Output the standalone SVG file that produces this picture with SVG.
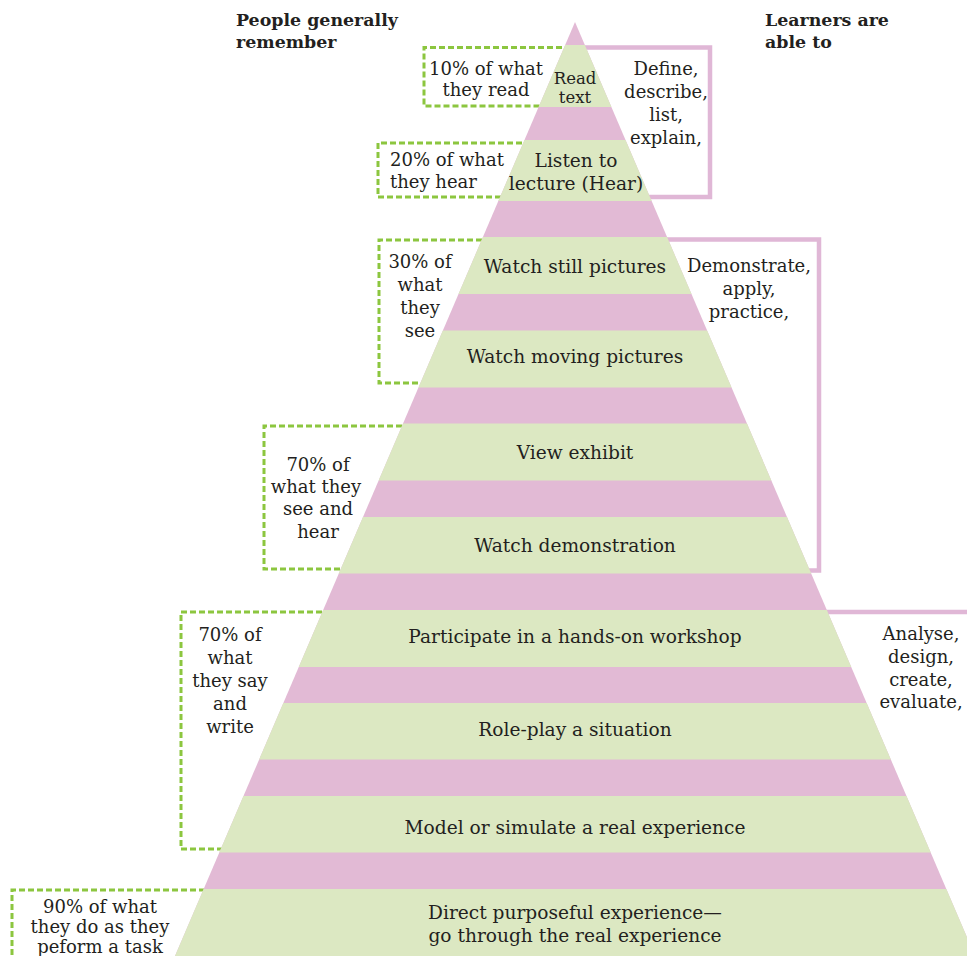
<svg xmlns="http://www.w3.org/2000/svg" width="967" height="956" viewBox="0 0 967 956">
  <style>
    .band-g { fill: #dce8c2; }
    .band-p { fill: #e2bad5; }
    .lbl { font-family: "DejaVu Serif", "Liberation Serif", serif; font-size: 18.6px; fill: #231f20; text-anchor: middle; }
    .sm { font-size: 16.5px; }
    .hdr { font-family: "DejaVu Serif", "Liberation Serif", serif; font-size: 17.4px; font-weight: bold; fill: #231f20; }
    .note { font-family: "DejaVu Serif", "Liberation Serif", serif; font-size: 18px; fill: #231f20; text-anchor: middle; }
    .start { text-anchor: start; }
    .brk { fill: none; stroke: #e0b7d6; stroke-width: 4.5; }
    .dash { fill: none; stroke: #8cc63f; stroke-width: 3; stroke-dasharray: 6 3; }
  </style>
  <defs>
    <clipPath id="tri">
      <polygon points="575,22 175,956 975,956"/>
    </clipPath>
  </defs>
  <rect width="967" height="956" fill="#ffffff"/>

  <!-- headers -->
  <g id="hdr-left">
    <text class="hdr" x="236" y="26">People generally</text>
    <text class="hdr" x="236" y="48">remember</text>
  </g>
  <g id="hdr-right">
    <text class="hdr" x="765" y="26">Learners are</text>
    <text class="hdr" x="765" y="48">able to</text>
  </g>

  <!-- connectors: outcome brackets (right) and recall boxes (left) -->
  <g id="connectors">
    <path class="brk" d="M 584 47.5 H 710 V 197 H 640"/>
    <path class="brk" d="M 660 239.5 H 819 V 570.5 H 800"/>
    <path class="brk" d="M 820 612 H 967"/>
    <path class="dash" d="M 562 47.5 H 424 V 106 H 545"/>
    <path class="dash" d="M 522 143 H 378 V 197 H 505"/>
    <path class="dash" d="M 482 240 H 379 V 383 H 425"/>
    <path class="dash" d="M 402 426 H 264 V 569 H 345"/>
    <path class="dash" d="M 322 612 H 181 V 849 H 225"/>
    <path class="dash" d="M 205 890 H 12 V 956"/>
  </g>

  <!-- pyramid -->
  <g id="pyramid" clip-path="url(#tri)">
    <rect class="band-p" x="150" y="0" width="850" height="956"/>
    <g id="read-text">
      <rect class="band-g" x="150" y="45" width="850" height="62"/>
      <text class="lbl sm" x="575" y="84">Read</text>
      <text class="lbl sm" x="575" y="103">text</text>
    </g>
    <g id="listen">
      <rect class="band-g" x="150" y="140" width="850" height="61"/>
      <text class="lbl" x="576" y="167">Listen to</text>
      <text class="lbl" x="576" y="190">lecture (Hear)</text>
    </g>
    <g id="still">
      <rect class="band-g" x="150" y="237" width="850" height="57"/>
      <text class="lbl" x="575" y="273">Watch still pictures</text>
    </g>
    <g id="moving">
      <rect class="band-g" x="150" y="330.5" width="850" height="57"/>
      <text class="lbl" x="575" y="363">Watch moving pictures</text>
    </g>
    <g id="exhibit">
      <rect class="band-g" x="150" y="423.5" width="850" height="57"/>
      <text class="lbl" x="575" y="459">View exhibit</text>
    </g>
    <g id="demo">
      <rect class="band-g" x="150" y="517" width="850" height="56.5"/>
      <text class="lbl" x="575" y="552">Watch demonstration</text>
    </g>
    <g id="workshop">
      <rect class="band-g" x="150" y="610" width="850" height="57"/>
      <text class="lbl" x="575" y="643">Participate in a hands-on workshop</text>
    </g>
    <g id="roleplay">
      <rect class="band-g" x="150" y="703" width="850" height="56.5"/>
      <text class="lbl" x="575" y="736">Role-play a situation</text>
    </g>
    <g id="model">
      <rect class="band-g" x="150" y="796" width="850" height="56.5"/>
      <text class="lbl" x="575" y="834">Model or simulate a real experience</text>
    </g>
    <g id="direct">
      <rect class="band-g" x="150" y="889" width="850" height="67"/>
      <text class="lbl" x="575" y="919">Direct purposeful experience—</text>
      <text class="lbl" x="575" y="942">go through the real experience</text>
    </g>
  </g>

  <!-- recall notes -->
  <g id="recall-10">
    <text class="note" x="486" y="75">10% of what</text>
    <text class="note" x="486" y="96">they read</text>
  </g>
  <g id="recall-20">
    <text class="note start" x="390" y="166">20% of what</text>
    <text class="note start" x="390" y="188">they hear</text>
  </g>
  <g id="recall-30">
    <text class="note" x="420" y="268">30% of</text>
    <text class="note" x="420" y="291">what</text>
    <text class="note" x="420" y="314">they</text>
    <text class="note" x="420" y="337">see</text>
  </g>
  <g id="recall-70a">
    <text class="note" x="318" y="471">70% of</text>
    <text class="note" x="316" y="493">what they</text>
    <text class="note" x="318" y="515">see and</text>
    <text class="note" x="318" y="538">hear</text>
  </g>
  <g id="recall-70b">
    <text class="note" x="230" y="641">70% of</text>
    <text class="note" x="230" y="664">what</text>
    <text class="note" x="230" y="687">they say</text>
    <text class="note" x="230" y="710">and</text>
    <text class="note" x="230" y="733">write</text>
  </g>
  <g id="recall-90">
    <text class="note" x="100" y="913">90% of what</text>
    <text class="note" x="100" y="933">they do as they</text>
    <text class="note" x="100" y="953">peform a task</text>
  </g>

  <!-- outcome notes -->
  <g id="outcome-1">
    <text class="note" x="666" y="75">Define,</text>
    <text class="note" x="666" y="98">describe,</text>
    <text class="note" x="666" y="121">list,</text>
    <text class="note" x="666" y="144">explain,</text>
  </g>
  <g id="outcome-2">
    <text class="note" x="749" y="272">Demonstrate,</text>
    <text class="note" x="749" y="295">apply,</text>
    <text class="note" x="749" y="318">practice,</text>
  </g>
  <g id="outcome-3">
    <text class="note" x="921" y="640">Analyse,</text>
    <text class="note" x="921" y="663">design,</text>
    <text class="note" x="921" y="686">create,</text>
    <text class="note" x="921" y="708">evaluate,</text>
  </g>
</svg>
